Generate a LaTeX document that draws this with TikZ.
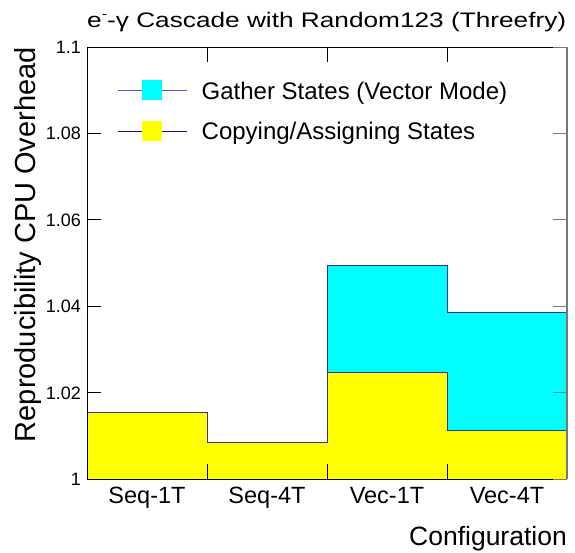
\documentclass[tikz,border=0pt]{standalone}
\usepackage{graphicx}
\usepackage{fontspec}
\setmainfont{Liberation Sans}
\definecolor{histline}{RGB}{48,48,168}
\definecolor{legA}{RGB}{90,90,200}
\definecolor{legB}{RGB}{20,20,140}
\definecolor{cyanfill}{RGB}{0,255,255}
\definecolor{yellowfill}{RGB}{255,255,0}
\definecolor{framegray}{RGB}{120,120,120}
\tikzset{
  histout/.style={draw=histline, line width=1pt},
  tickline/.style={draw=black, line width=0.8pt},
  ticklab/.style={anchor=base east, inner sep=0pt, font=\fontsize{18}{20}\selectfont},
  binlab/.style={anchor=base, inner sep=0pt, font=\fontsize{23.5}{26}\selectfont},
  legtext/.style={anchor=base west, inner sep=0pt, font=\fontsize{24}{27}\selectfont},
  titletext/.style={anchor=base west, inner sep=0pt, font=\fontsize{21}{24}\selectfont},
}
\begin{document}
\begin{tikzpicture}[x=1pt,y=-1pt]
\useasboundingbox (0,0) rectangle (575,552);
% stacked histogram fills
\fill[cyanfill] (327,372.7) rectangle (447,265);
\fill[cyanfill] (447,430.3) rectangle (567,312.3);
\fill[yellowfill] (87,479) rectangle (207,412.3);
\fill[yellowfill] (207,479) rectangle (327,442.3);
\fill[yellowfill] (327,479) rectangle (447,372.7);
\fill[yellowfill] (447,479) rectangle (567,430.3);
% outlines
\draw[histout] (87,412.3) -- (207,412.3) -- (207,442.3) -- (327,442.3) -- (327,265) -- (447,265) -- (447,312.3) -- (567,312.3);
\draw[histout] (327,372.7) -- (447,372.7) -- (447,430.3) -- (567,430.3);
% frame
\draw[black, line width=0.9pt] (567,47) -- (87,47) -- (87,479) -- (567,479);
\draw[framegray, line width=1.2pt] (567,47) -- (567,479);
% ticks
\foreach \yy in {479,392.6,306.2,219.8,133.4,47} {
  \draw[tickline] (87,\yy) -- (101,\yy);
  \draw[tickline, draw=framegray] (567,\yy) -- (553,\yy);
}
\foreach \xx in {207,327,447} {
  \draw[tickline] (\xx,47) -- (\xx,62);
  \draw[tickline] (\xx,479) -- (\xx,464);
}
% tick labels
\node[ticklab] (t0) at (81,485.5) {1};
\node[ticklab] (t1) at (81,399.1) {1.02};
\node[ticklab] (t2) at (81,312.7) {1.04};
\node[ticklab] (t3) at (81,226.3) {1.06};
\node[ticklab] (t4) at (81,139.9) {1.08};
\node[ticklab] (t5) at (81,53.5) {1.1};
% bin labels
\node[binlab] (b1) at (147,503) {Seq-1T};
\node[binlab] (b2) at (267,503) {Seq-4T};
\node[binlab] (b3) at (387,503) {Vec-1T};
\node[binlab] (b4) at (507,503) {Vec-4T};
% axis titles
\node[anchor=base east, inner sep=0pt, font=\fontsize{26.5}{30}\selectfont] (xt) at (567,545) {Configuration};
\node[anchor=base east, inner sep=0pt, rotate=90, font=\fontsize{29}{32}\selectfont] (yt) at (35,47) {Reproducibility CPU Overhead};
% title
\node[titletext] (title) at (87,27) {\resizebox{479pt}{\height}{e\raisebox{0.42em}{\fontsize{13}{13}\selectfont -}-γ Cascade with Random123 (Threefry)}};
% legend
\draw[legA, line width=1pt] (118,90) -- (187,90);
\fill[cyanfill] (141.7,80) rectangle (161.7,100);
\node[legtext] (l1) at (201.5,99.3) {Gather States (Vector Mode)};
\draw[legB, line width=1pt] (118,131) -- (187,131);
\fill[yellowfill] (141.7,121) rectangle (161.7,141);
\node[legtext] (l2) at (201.5,139.3) {Copying/Assigning States};
\end{tikzpicture}
\end{document}
